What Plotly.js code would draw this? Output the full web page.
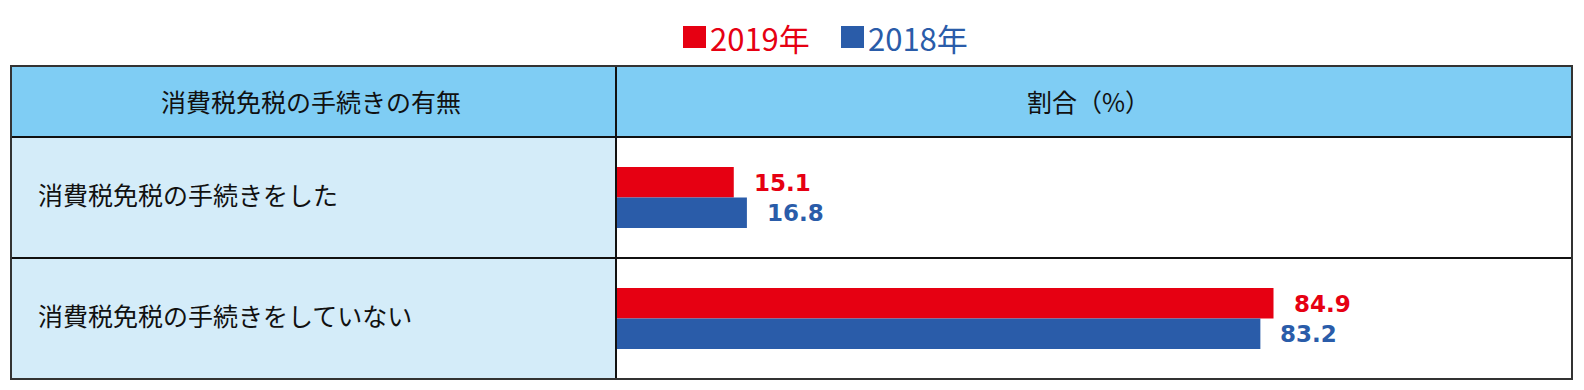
<!DOCTYPE html>
<html>
<head>
<meta charset="utf-8">
<script src="https://cdn.plot.ly/plotly-3.0.1.min.js"></script>
<style>html,body{margin:0;padding:0;background:#fff;}#chart{width:1584px;height:390px;}</style>
</head>
<body>
<div id="chart"></div>
<script>
// ---- data ----
const categories = ["消費税免税の手続きをした", "消費税免税の手続きをしていない"];
const seriesNames = ["2019年", "2018年"];
const values2019 = [15.1, 84.9];
const values2018 = [16.8, 83.2];
const headerLeft = "消費税免税の手続きの有無";
const headerRight = "割合（%）";

// ---- styles ----
const RED = "#E60012";
const BLUE = "#2A5CA9";
const HEAD_FILL = "#7FCDF4";
const LABEL_FILL = "#D4ECF9";
const W = 1584, H = 390;
const CJK = "Meiryo, 'Noto Sans CJK JP', sans-serif";
const NUMF = "'DejaVu Sans', Verdana, sans-serif";

const L = 11, R = 1572, T = 66, HB = 137, B = 379, DIV = 616;
const px = x => x / W;
const py = y => 1 - y / H;

const traces = [
  {type: "bar", orientation: "h", name: seriesNames[0], y: categories, x: values2019,
   marker: {color: RED}, hoverinfo: "x"},
  {type: "bar", orientation: "h", name: seriesNames[1], y: categories, x: values2018,
   marker: {color: BLUE}, hoverinfo: "x"}
];

const shapes = [
  {type: "rect", xref: "paper", yref: "paper", x0: px(L), x1: px(R), y0: py(HB), y1: py(T),
   fillcolor: HEAD_FILL, line: {width: 0}, layer: "below"},
  {type: "rect", xref: "paper", yref: "paper", x0: px(L), x1: px(DIV), y0: py(B), y1: py(HB),
   fillcolor: LABEL_FILL, line: {width: 0}, layer: "below"},
  {type: "line", xref: "paper", yref: "paper", x0: px(L), x1: px(R), y0: py(HB), y1: py(HB),
   line: {color: "#111", width: 2}},
  {type: "line", xref: "paper", yref: "paper", x0: px(L), x1: px(R), y0: py(258), y1: py(258),
   line: {color: "#111", width: 2}},
  {type: "line", xref: "paper", yref: "paper", x0: px(DIV), x1: px(DIV), y0: py(B), y1: py(T),
   line: {color: "#111", width: 2}},
  {type: "rect", xref: "paper", yref: "paper", x0: px(L), x1: px(R), y0: py(B), y1: py(T),
   line: {color: "#333", width: 2}, fillcolor: "rgba(0,0,0,0)"},
  {type: "rect", xref: "paper", yref: "paper", x0: px(683), x1: px(706), y0: py(48), y1: py(26),
   fillcolor: RED, line: {width: 0}},
  {type: "rect", xref: "paper", yref: "paper", x0: px(841), x1: px(864), y0: py(48), y1: py(26),
   fillcolor: BLUE, line: {width: 0}}
];

const annotations = [
  {xref: "paper", yref: "paper", x: px((L + DIV) / 2 - 3), y: py(101), text: headerLeft, showarrow: false,
   xanchor: "center", yanchor: "middle", font: {family: CJK, size: 25, color: "#111"}},
  {xref: "paper", yref: "paper", x: px((DIV + R) / 2 - 6), y: py(101), text: headerRight, showarrow: false,
   xanchor: "center", yanchor: "middle", font: {family: CJK, size: 25, color: "#111"}},
  {xref: "paper", yref: "paper", x: px(708), y: py(37), text: seriesNames[0], showarrow: false,
   xanchor: "left", yanchor: "middle", font: {family: CJK, size: 31, color: RED}},
  {xref: "paper", yref: "paper", x: px(866), y: py(37), text: seriesNames[1], showarrow: false,
   xanchor: "left", yanchor: "middle", font: {family: CJK, size: 31, color: BLUE}}
];

categories.forEach((c, i) => {
  annotations.push({xref: "paper", yref: "y", x: px(36), y: c, yshift: 4, text: c, showarrow: false,
    xanchor: "left", yanchor: "middle", font: {family: CJK, size: 25, color: "#111"}});
  annotations.push({xref: "x", yref: "y", x: values2019[i], y: c, yshift: 15, xshift: 18,
    text: values2019[i].toFixed(1), showarrow: false, xanchor: "left", yanchor: "middle",
    font: {family: NUMF, size: 23, color: RED, weight: "bold"}});
  annotations.push({xref: "x", yref: "y", x: values2018[i], y: c, yshift: -15, xshift: 18,
    text: values2018[i].toFixed(1), showarrow: false, xanchor: "left", yanchor: "middle",
    font: {family: NUMF, size: 23, color: BLUE, weight: "bold"}});
});

const layout = {
  width: W, height: H,
  margin: {l: 0, r: 0, t: 0, b: 0},
  paper_bgcolor: "#fff", plot_bgcolor: "rgba(0,0,0,0)",
  showlegend: false,
  barmode: "group", bargap: 0.496, bargroupgap: 0,
  xaxis: {domain: [px(DIV + 1), px(R)], range: [0, 123.5], visible: false, fixedrange: true},
  yaxis: {domain: [py(B), py(HB)], type: "category", range: [1.5, -0.5], visible: false, fixedrange: true},
  shapes: shapes,
  annotations: annotations
};

Plotly.newPlot("chart", traces, layout, {staticPlot: true, displayModeBar: false});
</script>
</body>
</html>
